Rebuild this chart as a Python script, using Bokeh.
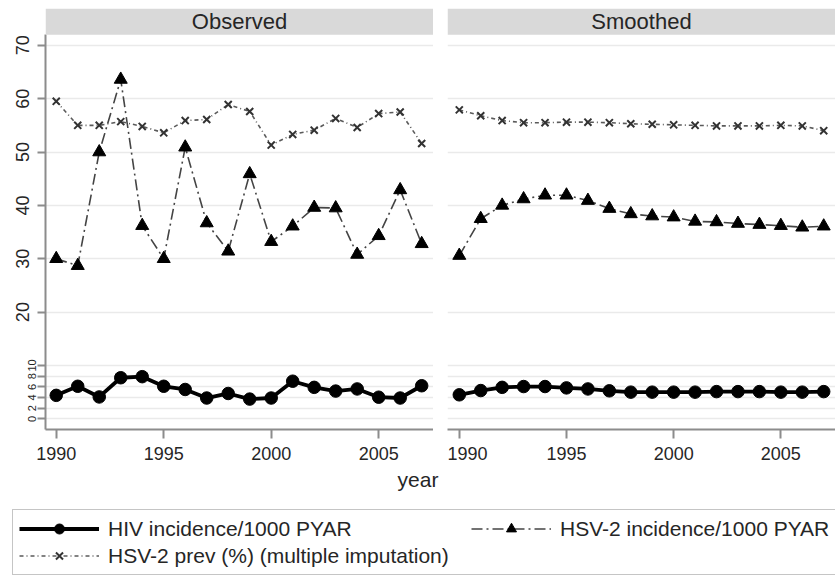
from bokeh.plotting import figure
from bokeh.models import (Range1d, FixedTicker, LinearAxis, BoxAnnotation, Label,
                          Legend, LegendItem, Spacer, Grid)
from bokeh.layouts import column, row
from bokeh.embed import file_html
from bokeh.resources import INLINE

# ---------------- data ----------------
years = list(range(1990, 2008))
hiv_obs = [4.4, 6.1, 4.1, 7.7, 7.9, 6.1, 5.5, 3.9, 4.75, 3.7, 3.9, 7.05, 5.9, 5.2, 5.6, 4.05, 3.9, 6.2]
hsv_inc_obs = [30.0, 28.7, 50.0, 63.6, 36.2, 30.0, 50.9, 36.7, 31.4, 45.9, 33.2, 36.1, 39.6, 39.5, 30.8, 34.3, 42.9, 32.8]
hsv_prev_obs = [59.5, 55.0, 55.0, 55.7, 54.8, 53.6, 55.9, 56.1, 58.9, 57.6, 51.3, 53.3, 54.1, 56.3, 54.6, 57.2, 57.5, 51.6]
hiv_smo = [4.5, 5.3, 5.9, 6.05, 6.05, 5.8, 5.6, 5.25, 5.0, 5.0, 5.0, 5.0, 5.1, 5.1, 5.1, 5.0, 5.0, 5.1]
hsv_inc_smo = [30.6, 37.5, 40.0, 41.2, 41.9, 41.9, 40.9, 39.4, 38.4, 38.0, 37.8, 37.0, 36.9, 36.6, 36.4, 36.2, 35.9, 36.1]
hsv_prev_smo = [57.9, 56.8, 55.9, 55.5, 55.5, 55.6, 55.6, 55.5, 55.3, 55.2, 55.1, 55.0, 54.9, 54.9, 54.9, 55.0, 54.9, 54.0]

panel_titles = ["Observed", "Smoothed"]
small_ticks = [0, 2, 4, 6, 8, 10]
big_ticks = [20, 30, 40, 50, 60, 70]
x_ticks = [1990, 1995, 2000, 2005]
series_labels = ["HIV incidence/1000 PYAR", "HSV-2 incidence/1000 PYAR",
                 "HSV-2 prev (%) (multiple imputation)"]
x_label = "year"

# ---------------- style ----------------
FONT = "Liberation Sans"
AXIS_GREY = "#8c8c8c"
GRID_GREY = "#eaeaea"
HEADER_GREY = "#d9d9d9"
TEXT = "#262626"
Y_LO, Y_DATA_TOP, Y_HI = -2, 72, 76.9

y_range = Range1d(Y_LO, Y_HI)

HIV_LINE = dict(line_color="black", line_width=3.8)
HIV_MARK = dict(marker="circle", size=12.5, fill_color="black", line_color="black")
INC_LINE = dict(line_color="#444444", line_width=1.6, line_dash="11 4 2 4")
INC_MARK = dict(marker="triangle", size=13, fill_color="black", line_color="black")
PREV_LINE = dict(line_color="#5a5a5a", line_width=1.6, line_dash="4 3 1 3")
PREV_MARK = dict(marker="x", size=10, line_color="#333333", line_width=2)


def draw_series(p, xs, hiv, inc, prev):
    r = {}
    r["prev_l"] = p.line(xs, prev, **PREV_LINE)
    r["prev_m"] = p.scatter(xs, prev, **PREV_MARK)
    r["inc_l"] = p.line(xs, inc, **INC_LINE)
    r["inc_m"] = p.scatter(xs, inc, **INC_MARK)
    r["hiv_l"] = p.line(xs, hiv, **HIV_LINE)
    r["hiv_m"] = p.scatter(xs, hiv, **HIV_MARK)
    return r


def make_panel(title, hiv, inc, prev, x0, x1, with_y):
    p = figure(frame_width=388, frame_height=421, x_range=Range1d(x0, x1), y_range=y_range,
               output_backend="svg", toolbar_location=None, y_axis_location=None,
               min_border_left=45 if with_y else 0, min_border_right=0,
               min_border_top=8, min_border_bottom=0,
               outline_line_color=None, background_fill_color="white")
    p.grid.visible = False
    p.add_layout(Grid(dimension=1, ticker=FixedTicker(ticks=small_ticks + big_ticks),
                      grid_line_color=GRID_GREY, grid_line_width=1.5), "center")
    xa = p.xaxis[0]
    xa.ticker = FixedTicker(ticks=x_ticks)
    xa.major_label_text_font = FONT
    xa.major_label_text_font_size = "18px"
    xa.major_label_text_color = TEXT
    xa.axis_line_color = AXIS_GREY
    xa.axis_line_width = 2
    xa.major_tick_line_color = AXIS_GREY
    xa.major_tick_line_width = 2
    xa.major_tick_out = 9
    xa.major_tick_in = 0
    xa.minor_tick_line_color = None
    xa.major_label_standoff = 8
    p.add_layout(BoxAnnotation(bottom=Y_DATA_TOP, fill_color=HEADER_GREY, fill_alpha=1,
                               line_color=None))
    p.add_layout(Label(x=(x0 + x1) / 2, y=(Y_DATA_TOP + Y_HI) / 2, text=title,
                       text_align="center", text_baseline="middle", text_font=FONT,
                       text_font_size="22px", text_color=TEXT))
    if with_y:
        ax_small = LinearAxis(ticker=FixedTicker(ticks=small_ticks + big_ticks),
                              major_label_overrides={t: "" for t in big_ticks},
                              bounds=(Y_LO, Y_DATA_TOP),
                              major_label_orientation="vertical",
                              major_label_text_font=FONT, major_label_text_font_size="11px",
                              major_label_text_color=TEXT, major_label_standoff=1,
                              axis_line_color=AXIS_GREY, axis_line_width=2,
                              major_tick_line_color=AXIS_GREY, major_tick_line_width=2,
                              major_tick_out=8, major_tick_in=0, minor_tick_line_color=None)
        ax_big = LinearAxis(ticker=FixedTicker(ticks=big_ticks),
                            major_label_orientation="vertical",
                            major_label_text_font=FONT, major_label_text_font_size="18px",
                            major_label_text_color=TEXT, major_label_standoff=-4,
                            axis_line_color=None, major_tick_line_color=None,
                            major_tick_out=0, major_tick_in=0, minor_tick_line_color=None)
        p.add_layout(ax_small, "left")
        p.add_layout(ax_big, "left")
    draw_series(p, years, hiv, inc, prev)
    return p


pL = make_panel(panel_titles[0], hiv_obs, hsv_inc_obs, hsv_prev_obs, 1989.5, 2007.55, True)
pR = make_panel(panel_titles[1], hiv_smo, hsv_inc_smo, hsv_prev_smo, 1989.45, 2007.55, False)

# ---------------- bottom: x label + legend ----------------
pb = figure(width=835, height=114, x_range=(0, 1), y_range=(0, 1), output_backend="svg",
            toolbar_location=None, x_axis_location=None, y_axis_location=None,
            min_border_left=0, min_border_right=0, min_border_top=4, min_border_bottom=0,
            outline_line_color=None, title=x_label)
pb.grid.visible = False
pb.title.align = "center"
pb.title.text_font = FONT
pb.title.text_font_size = "21px"
pb.title.text_font_style = "normal"
pb.title.text_color = TEXT
pb.title.standoff = 6

# legend renderers: same series, lying outside this figure's visible range
rb = draw_series(pb, years, hiv_obs, hsv_inc_obs, hsv_prev_obs)

legend_common = dict(label_text_font=FONT, label_text_font_size="21px", label_text_color=TEXT,
                     glyph_width=80, glyph_height=25, label_height=25, label_standoff=9,
                     padding=6, spacing=2, margin=0)

# boxed legend: first column, stretched to the full width of the box
legend1 = Legend(items=[LegendItem(label=series_labels[0], renderers=[rb["hiv_l"], rb["hiv_m"]]),
                        LegendItem(label=series_labels[2], renderers=[rb["prev_l"], rb["prev_m"]])],
                 location=(12, 1), label_width=722,
                 border_line_color=AXIS_GREY, border_line_width=1.5,
                 background_fill_alpha=1, **legend_common)
# second column item, first row
legend2 = Legend(items=[LegendItem(label=series_labels[1], renderers=[rb["inc_l"], rb["inc_m"]])],
                 location=(471, 35), border_line_color=None, background_fill_alpha=0,
                 **legend_common)
pb.add_layout(legend1, "center")
pb.add_layout(legend2, "center")

layout = column(row(pL, Spacer(width=14), pR), pb)
open("out.html", "w").write(file_html(layout, INLINE))
